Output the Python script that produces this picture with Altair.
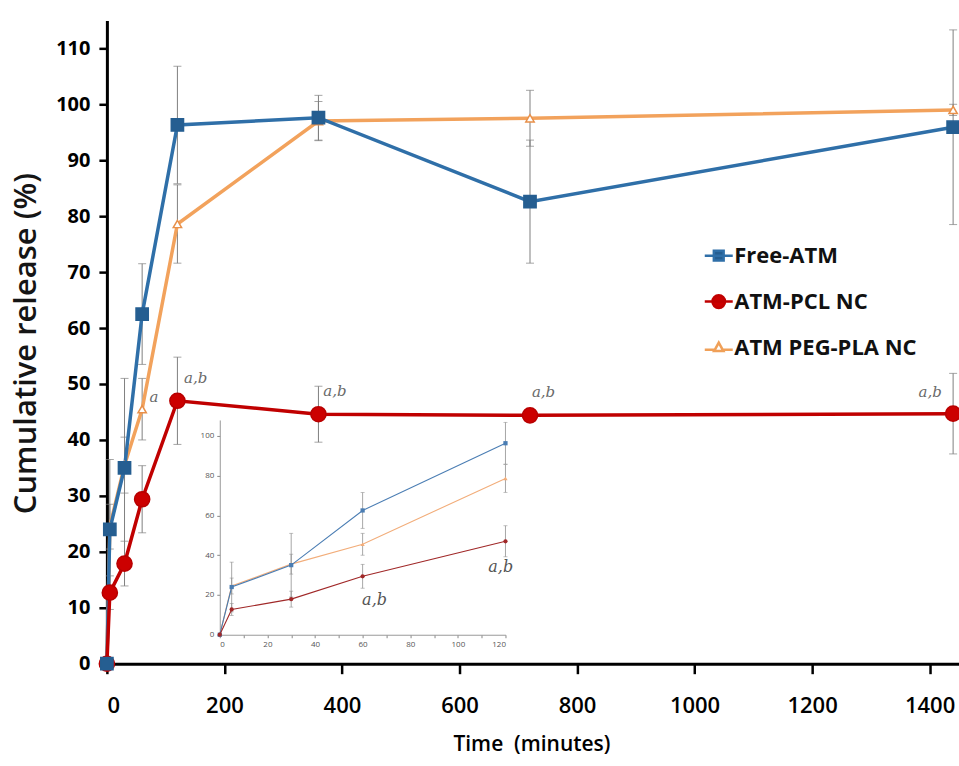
import altair as alt
import pandas as pd

# ---------------- data ----------------
times = [0, 5, 30, 60, 120, 360, 720, 1440]
series_names = ["Free-ATM", "ATM-PCL NC", "ATM PEG-PLA NC"]

free_atm = [0, 24.0, 35.0, 62.5, 96.3, 97.6, 82.6, 95.9]
free_atm_err = [0, 12.5, 16.0, 9.0, 10.5, 4.0, 11.0, 17.4]

pcl_nc = [0, 12.7, 17.9, 29.4, 47.0, 44.6, 44.4, 44.7]
pcl_nc_err = [0, 3.0, 4.0, 6.0, 7.8, 5.0, 0.5, 7.2]

peg_pla_nc = [0, 24.5, 35.5, 45.5, 78.6, 97.0, 97.5, 99.0]
peg_pla_nc_err = [0, 4.0, 5.0, 5.5, 7.0, 3.5, 5.0, 1.0]

ann_t = [80, 151, 388, 743, 1401]
ann_v = [47.7, 51.0, 48.7, 48.5, 48.5]
ann_lab = ["a", "a,b", "a,b", "a,b", "a,b"]

inset_ann_t = [65, 118]
inset_ann_v = [17.6, 34.2]
inset_ann_lab = ["a,b", "a,b"]

x_ticks = [0, 200, 400, 600, 800, 1000, 1200, 1400]
y_ticks = [0, 10, 20, 30, 40, 50, 60, 70, 80, 90, 100, 110]
inset_x_ticks = [0, 10, 20, 30, 40, 50, 60, 70, 80, 90, 100, 110, 120]
inset_y_ticks = [0, 20, 40, 60, 80, 100]

# ---------------- styles ----------------
line_colors = ["#2f6fa8", "#c00000", "#f2a25c"]
marker_fill = ["#255e91", "#cc0000", "white"]
marker_stroke = ["#255e91", "#b80000", "#e8904a"]
marker_shape = ["square", "circle", "triangle-up"]
marker_size = [150, 230, 70]
inset_colors = ["#4a7db3", "#a02828", "#f2ad7a"]
FONT = "Open Sans"

rows = []
for name, vals, errs in zip(series_names, [free_atm, pcl_nc, peg_pla_nc],
                            [free_atm_err, pcl_nc_err, peg_pla_nc_err]):
    for t, v, e in zip(times, vals, errs):
        rows.append(dict(series=name, t=t, v=v, e=e, lo=v - e, hi=v + e))
df = pd.DataFrame(rows)
err_df = df[df.e > 0]

ann_df = pd.DataFrame(dict(ta=ann_t, va=ann_v, lab=ann_lab))

inset_df = df[df.t <= 120].rename(columns={"t": "ti", "v": "vi", "lo": "loi", "hi": "hii"})
inset_err = inset_df[inset_df.e > 0]
inset_ann = pd.DataFrame(dict(tai=inset_ann_t, vai=inset_ann_v, labi=inset_ann_lab))

W, H = 853, 644

x_scale = alt.Scale(domain=[0, 1450], nice=False, zero=False)
y_scale = alt.Scale(domain=[0, 115], nice=False)
x_axis = alt.Axis(values=x_ticks, format="d", grid=False, domainColor="black", domainWidth=3,
                  tickColor="black", tickWidth=2.5, tickSize=10, labelFont=FONT,
                  labelFontSize=22, labelFontWeight=600, labelColor="black",
                  labelPadding=22, titleFont=FONT, titleFontSize=21,
                  titleFontWeight=600, titleColor="black", titleX=425, titleY=81,
                  titleBaseline="middle")
y_axis = alt.Axis(values=y_ticks, grid=False, domainColor="black", domainWidth=3,
                  tickColor="black", tickWidth=2.5, tickSize=8, labelFont=FONT,
                  labelFontSize=20, labelFontWeight="bold", labelColor="black",
                  labelPadding=9, titleFont=FONT, titleFontSize=31,
                  titleFontWeight=600, titleColor="#151515", titleX=-80, titleY=323,
                  titleBaseline="middle")
X_TITLE = "Time \u00a0(minutes)"
Y_TITLE = "Cumulative release (%)"


def X(f):
    return alt.X(f, type="quantitative", scale=x_scale, axis=x_axis, title=X_TITLE)


def Y(f):
    return alt.Y(f, type="quantitative", scale=y_scale, axis=y_axis, title=Y_TITLE)


base = alt.Chart(df)

err_rule = alt.Chart(err_df).mark_rule(color="#808080", strokeWidth=1).encode(
    x=X("t"), y=Y("lo"), y2="hi")
err_cap_lo = alt.Chart(err_df).mark_tick(color="#808080", orient="horizontal",
                                         size=8, thickness=1).encode(x=X("t"), y=Y("lo"))
err_cap_hi = alt.Chart(err_df).mark_tick(color="#808080", orient="horizontal",
                                         size=8, thickness=1).encode(x=X("t"), y=Y("hi"))

main_layers = [err_rule, err_cap_lo, err_cap_hi]
for i in [2, 0, 1]:
    main_layers.append(base.transform_filter(alt.datum.series == series_names[i]).mark_line(
        strokeWidth=3.5, color=line_colors[i]).encode(x=X("t"), y=Y("v")))
for i in [2, 1, 0]:
    main_layers.append(base.transform_filter(alt.datum.series == series_names[i]).mark_point(
        shape=marker_shape[i], filled=True, fill=marker_fill[i], stroke=marker_stroke[i],
        strokeWidth=1.5, size=marker_size[i], opacity=1).encode(x=X("t"), y=Y("v")))

main_layers.append(alt.Chart(ann_df).mark_text(
    font="DejaVu Serif", fontStyle="italic", fontSize=15, color="#6a6a6a").encode(
    x=X("ta"), y=Y("va"), text="lab:N"))

# legend: an empty layer whose scales carry combined line+marker symbols
sym_sq = "M-1,0H1M-0.35,-0.35H0.35V0.35H-0.35Z"
sym_ci = "M-1,0H1M-0.45,0A0.45,0.45,0,1,1,0.45,0A0.45,0.45,0,1,1,-0.45,0Z"
sym_tri = "M-1,0.15H-0.33M0.33,0.15H1M0,-0.35L0.33,0.25H-0.33Z"
leg = alt.Legend(orient="none", legendX=597, legendY=220, title=None, labelFont=FONT,
                 labelFontSize=22, labelFontWeight="bold", labelColor="#111111",
                 labelLimit=400, symbolSize=784, symbolStrokeWidth=2.5, rowPadding=19,
                 labelOffset=0, padding=0, symbolOpacity=1)
legend_layer = base.transform_filter("datum.t < 0").mark_point(
    filled=True, size=784, strokeWidth=2.5, opacity=1).encode(
    x=X("t"), y=Y("v"),
    shape=alt.Shape("series:N", scale=alt.Scale(domain=series_names,
                                                range=[sym_sq, sym_ci, sym_tri]), legend=leg),
    fill=alt.Fill("series:N", scale=alt.Scale(domain=series_names,
                                              range=["#255e91", "#cc0000", "white"]), legend=leg),
    stroke=alt.Stroke("series:N", scale=alt.Scale(domain=series_names,
                                                  range=["#2f6fa8", "#c00000", "#f0a058"]), legend=leg),
)
main_layers.append(legend_layer)
main = alt.layer(*main_layers)

# ---------------- inset ----------------
xi_scale = alt.Scale(domain=[0, 120], range=[113, 399], nice=False, zero=False)
yi_scale = alt.Scale(domain=[0, 108], range=[615, 400], nice=False)
xi_axis = alt.Axis(orient="bottom", offset=-29, values=inset_x_ticks,
                   labelExpr="datum.value % 20 == 0 ? datum.label : ''", grid=False,
                   domainColor="#999999", domainWidth=1, tickColor="#888888", tickSize=3,
                   tickWidth=1, labelFont=FONT, labelFontSize=8, labelColor="#555555",
                   labelPadding=3, title=None)
yi_axis = alt.Axis(orient="left", offset=-113, values=inset_y_ticks, grid=False,
                   domainColor="#999999", domainWidth=1, tickColor="#888888", tickSize=3,
                   tickWidth=1, labelFont=FONT, labelFontSize=8, labelColor="#555555",
                   labelPadding=3, title=None)


def XI(f):
    return alt.X(f, type="quantitative", scale=xi_scale, axis=xi_axis, title=None)


def YI(f):
    return alt.Y(f, type="quantitative", scale=yi_scale, axis=yi_axis, title=None)


ibase = alt.Chart(inset_df)
inset_layers = [
    alt.Chart(inset_err).mark_rule(color="#909090", strokeWidth=0.8).encode(
        x=XI("ti"), y=YI("loi"), y2="hii"),
    alt.Chart(inset_err).mark_tick(color="#909090", orient="horizontal", size=4,
                                   thickness=0.8).encode(x=XI("ti"), y=YI("loi")),
    alt.Chart(inset_err).mark_tick(color="#909090", orient="horizontal", size=4,
                                   thickness=0.8).encode(x=XI("ti"), y=YI("hii")),
]
for i in [2, 0, 1]:
    sub = ibase.transform_filter(alt.datum.series == series_names[i])
    inset_layers.append(sub.mark_line(strokeWidth=1.1, color=inset_colors[i]).encode(
        x=XI("ti"), y=YI("vi")))
    inset_layers.append(sub.mark_point(filled=True, size=18, opacity=1, shape=marker_shape[i],
                                       color=inset_colors[i]).encode(x=XI("ti"), y=YI("vi")))
inset_layers.append(alt.Chart(inset_ann).mark_text(
    font="DejaVu Serif", fontStyle="italic", fontSize=16, color="#555555").encode(
    x=XI("tai"), y=YI("vai"), text="labi:N"))
inset = alt.layer(*inset_layers)

chart = alt.layer(main, inset).resolve_scale(x="independent", y="independent").properties(
    width=W, height=H,
    padding={"left": 107, "top": 20, "right": 0, "bottom": 102},
    autosize=alt.AutoSizeParams(type="none"),
    background="white",
).configure_view(stroke=None)

chart.save("out.html", embed_options={"renderer": "svg", "actions": False})
